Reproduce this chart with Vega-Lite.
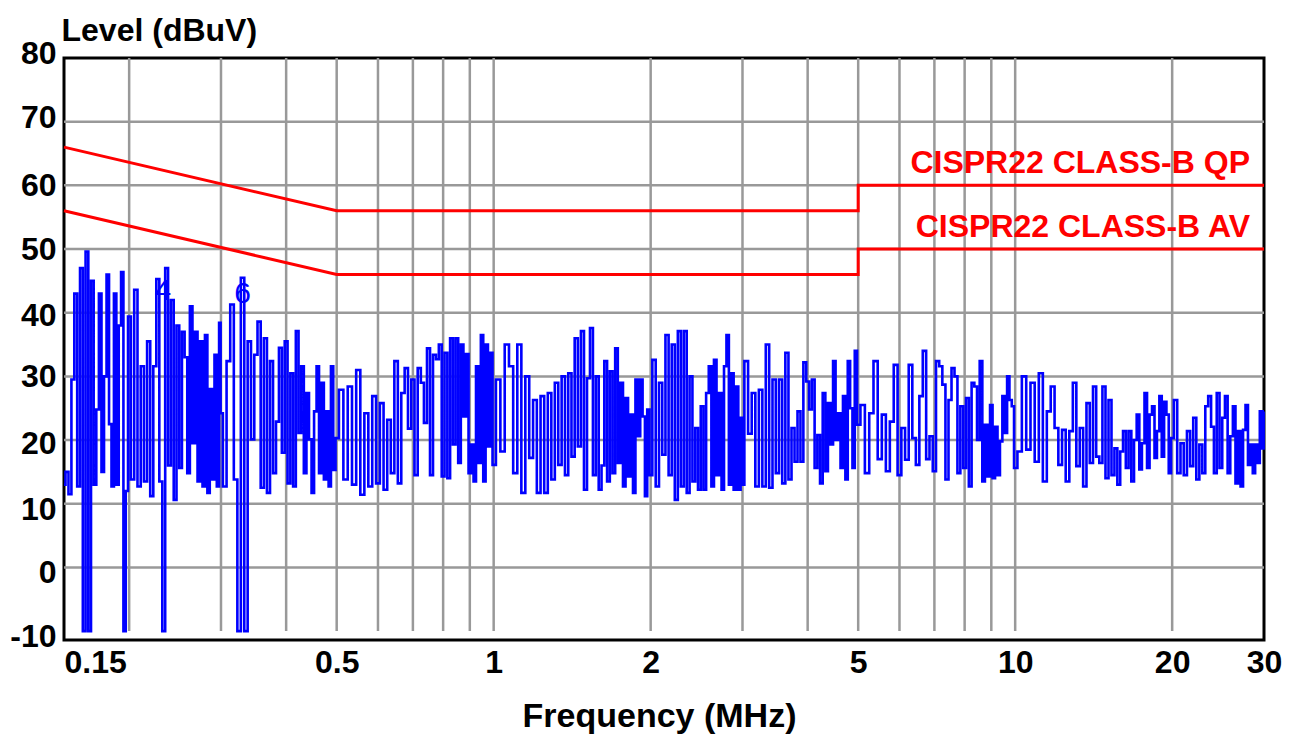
{
  "$schema": "https://vega.github.io/schema/vega-lite/v6.json",
  "width": 1200,
  "height": 582,
  "autosize": {"type": "none"},
  "padding": {"left": 64, "top": 58, "right": 41, "bottom": 102},
  "background": "white",
  "datasets": {
    "trace": [
      {"f":0.150,"v":13},{"f":0.152,"v":15},{"f":0.154,"v":11.5},{"f":0.156,"v":29.5},{"f":0.158,"v":43},{"f":0.160,"v":12.7},{"f":0.162,"v":47},{"f":0.164,"v":-10},{"f":0.166,"v":49.6},{"f":0.168,"v":-10},
      {"f":0.170,"v":45},{"f":0.172,"v":13},{"f":0.174,"v":24.8},{"f":0.176,"v":43},{"f":0.178,"v":15},{"f":0.180,"v":30},{"f":0.182,"v":46},{"f":0.184,"v":22.5},{"f":0.186,"v":12.7},{"f":0.188,"v":43},
      {"f":0.190,"v":13},{"f":0.192,"v":38},{"f":0.194,"v":46.4},{"f":0.196,"v":-10},{"f":0.198,"v":12},{"f":0.200,"v":39.4},
      {"f":0.203,"v":13.8},{"f":0.206,"v":43.6},{"f":0.209,"v":12.7},{"f":0.212,"v":31.6},{"f":0.215,"v":13.5},{"f":0.218,"v":35.5},{"f":0.221,"v":11.2},{"f":0.224,"v":31.6},{"f":0.227,"v":45.3},{"f":0.230,"v":13.5},
      {"f":0.233,"v":-10},{"f":0.236,"v":47},{"f":0.239,"v":16},{"f":0.242,"v":42},{"f":0.245,"v":10.6},{"f":0.248,"v":38},{"f":0.251,"v":15.6},{"f":0.254,"v":37},{"f":0.257,"v":33},{"f":0.260,"v":14.8},
      {"f":0.263,"v":41},{"f":0.266,"v":19.5},{"f":0.269,"v":37},{"f":0.272,"v":13.5},{"f":0.275,"v":35.5},{"f":0.278,"v":12.7},{"f":0.281,"v":36.5},{"f":0.284,"v":11.7},{"f":0.287,"v":28},{"f":0.290,"v":13.8},
      {"f":0.293,"v":33.4},{"f":0.296,"v":12.7},{"f":0.299,"v":38.4},
      {"f":0.300,"v":24.2},{"f":0.305,"v":12.7},{"f":0.310,"v":32.4},{"f":0.315,"v":41.3},{"f":0.320,"v":13.8},{"f":0.325,"v":-10},{"f":0.330,"v":45.5},{"f":0.335,"v":-10},{"f":0.340,"v":35.5},{"f":0.345,"v":20.1},
      {"f":0.350,"v":33.4},{"f":0.355,"v":38.6},{"f":0.360,"v":12.5},{"f":0.365,"v":36},{"f":0.370,"v":11.7},{"f":0.375,"v":32.4},{"f":0.380,"v":14.8},{"f":0.385,"v":22.9},{"f":0.390,"v":34.5},{"f":0.395,"v":18},
      {"f":0.400,"v":35.5},{"f":0.405,"v":13.2},{"f":0.410,"v":30.5},{"f":0.415,"v":12.7},{"f":0.420,"v":37.1},{"f":0.425,"v":21.1},{"f":0.430,"v":31.6},{"f":0.435,"v":14.8},{"f":0.440,"v":27.4},{"f":0.445,"v":20.1},
      {"f":0.450,"v":11.7},{"f":0.455,"v":24.5},{"f":0.460,"v":31.6},{"f":0.465,"v":14.8},{"f":0.470,"v":29},{"f":0.475,"v":13.8},{"f":0.480,"v":24.5},{"f":0.485,"v":12.7},{"f":0.490,"v":31.6},{"f":0.495,"v":15.3},
      {"f":0.500,"v":20.3},
      {"f":0.51,"v":27.9},{"f":0.52,"v":13.8},{"f":0.53,"v":28.4},{"f":0.54,"v":13},{"f":0.55,"v":31},{"f":0.56,"v":11.4},{"f":0.57,"v":24.2},{"f":0.58,"v":12.7},{"f":0.59,"v":26.9},{"f":0.60,"v":13.2},
      {"f":0.61,"v":25.8},{"f":0.62,"v":12.2},{"f":0.63,"v":23.2},{"f":0.64,"v":14.8},{"f":0.65,"v":32.4},{"f":0.66,"v":13.2},{"f":0.67,"v":27.4},{"f":0.68,"v":31.3},{"f":0.69,"v":21.8},{"f":0.70,"v":29.5},
      {"f":0.71,"v":14.5},{"f":0.72,"v":31.3},{"f":0.73,"v":29},{"f":0.74,"v":22.7},{"f":0.75,"v":34.4},{"f":0.76,"v":14.5},{"f":0.77,"v":33.4},{"f":0.78,"v":32.7},{"f":0.79,"v":35},{"f":0.80,"v":14.3},
      {"f":0.81,"v":33.7},{"f":0.82,"v":14},{"f":0.83,"v":36},{"f":0.84,"v":19.3},{"f":0.85,"v":36},{"f":0.86,"v":16.4},{"f":0.87,"v":35},{"f":0.88,"v":23.7},{"f":0.89,"v":33.5},{"f":0.90,"v":14.8},
      {"f":0.91,"v":19.3},{"f":0.92,"v":13.5},{"f":0.93,"v":31.6},{"f":0.94,"v":16.4},{"f":0.95,"v":36.5},{"f":0.96,"v":13.5},{"f":0.97,"v":35},{"f":0.98,"v":19},{"f":0.99,"v":33.7},{"f":1.00,"v":16.1},
      {"f":1.02,"v":29.5},{"f":1.04,"v":18.2},{"f":1.06,"v":35},{"f":1.08,"v":31.6},{"f":1.10,"v":14.8},{"f":1.12,"v":35},{"f":1.14,"v":11.7},{"f":1.16,"v":30},{"f":1.18,"v":17.2},{"f":1.20,"v":26.3},
      {"f":1.22,"v":11.7},{"f":1.24,"v":26.9},{"f":1.26,"v":11.7},{"f":1.28,"v":27.4},{"f":1.30,"v":13.8},{"f":1.32,"v":29},{"f":1.34,"v":16.1},{"f":1.36,"v":30},{"f":1.38,"v":14.5},{"f":1.40,"v":30.5},
      {"f":1.42,"v":17.4},{"f":1.44,"v":36},{"f":1.46,"v":19},{"f":1.48,"v":37.1},{"f":1.50,"v":12.2},{"f":1.52,"v":29.7},{"f":1.54,"v":37.6},{"f":1.56,"v":14.5},{"f":1.58,"v":30},{"f":1.60,"v":12.2},
      {"f":1.62,"v":16},{"f":1.64,"v":32.4},{"f":1.66,"v":13.5},{"f":1.68,"v":30.8},{"f":1.70,"v":14.8},{"f":1.72,"v":34.4},{"f":1.74,"v":16.4},{"f":1.76,"v":29},{"f":1.78,"v":12.7},{"f":1.80,"v":26.6},
      {"f":1.82,"v":14.3},{"f":1.84,"v":24},{"f":1.86,"v":11.7},{"f":1.88,"v":29.5},{"f":1.90,"v":20.6},{"f":1.92,"v":29.5},{"f":1.94,"v":23.7},{"f":1.96,"v":11.2},{"f":1.98,"v":24.8},{"f":2.00,"v":14.5},
      {"f":2.03,"v":32.6},{"f":2.06,"v":12.7},{"f":2.09,"v":29},{"f":2.12,"v":17.7},{"f":2.15,"v":36.5},{"f":2.18,"v":14.5},{"f":2.21,"v":35},{"f":2.24,"v":10.6},{"f":2.27,"v":37.1},{"f":2.30,"v":12.7},
      {"f":2.33,"v":37.1},{"f":2.36,"v":11.7},{"f":2.39,"v":30},{"f":2.42,"v":13.5},{"f":2.45,"v":21.9},{"f":2.48,"v":12.2},{"f":2.51,"v":25.3},{"f":2.54,"v":12.2},{"f":2.57,"v":27.4},{"f":2.60,"v":31.6},
      {"f":2.63,"v":12.7},{"f":2.66,"v":32.6},{"f":2.69,"v":14.5},{"f":2.72,"v":27.4},{"f":2.75,"v":12.2},{"f":2.78,"v":31.6},{"f":2.81,"v":36.5},{"f":2.84,"v":13},{"f":2.87,"v":30.5},{"f":2.90,"v":12.2},
      {"f":2.93,"v":28.4},{"f":2.96,"v":12.2},{"f":2.99,"v":23.5},{"f":3.00,"v":13},
      {"f":3.05,"v":32.4},{"f":3.10,"v":21},{"f":3.15,"v":27.4},{"f":3.20,"v":12.7},{"f":3.25,"v":27.9},{"f":3.30,"v":12.7},{"f":3.35,"v":35},{"f":3.40,"v":12.5},{"f":3.45,"v":29.5},{"f":3.50,"v":14.8},
      {"f":3.55,"v":29.5},{"f":3.60,"v":13.2},{"f":3.65,"v":33.7},{"f":3.70,"v":13.8},{"f":3.75,"v":21.9},{"f":3.80,"v":16.6},{"f":3.85,"v":24.5},{"f":3.90,"v":16.6},{"f":3.95,"v":32.2},{"f":4.00,"v":29.2},
      {"f":4.05,"v":24.8},{"f":4.10,"v":29.5},{"f":4.15,"v":15.6},{"f":4.20,"v":20.8},{"f":4.25,"v":13.2},{"f":4.30,"v":27.4},{"f":4.35,"v":15.1},{"f":4.40,"v":25.8},{"f":4.45,"v":19.3},{"f":4.50,"v":32.4},
      {"f":4.55,"v":20},{"f":4.60,"v":24.2},{"f":4.65,"v":15.6},{"f":4.70,"v":26.9},{"f":4.75,"v":13.8},{"f":4.80,"v":32.4},{"f":4.85,"v":25},{"f":4.90,"v":15.6},{"f":4.95,"v":34},{"f":5.00,"v":22.4},
      {"f":5.1,"v":25.5},{"f":5.2,"v":14.8},{"f":5.3,"v":24.2},{"f":5.4,"v":32.4},{"f":5.5,"v":17},{"f":5.6,"v":24},{"f":5.7,"v":15.1},{"f":5.8,"v":22.9},{"f":5.9,"v":31.8},{"f":6.0,"v":14.5},
      {"f":6.1,"v":21.9},{"f":6.2,"v":16.9},{"f":6.3,"v":31.8},{"f":6.4,"v":20.3},{"f":6.5,"v":16.1},{"f":6.6,"v":26.9},{"f":6.7,"v":34},{"f":6.8,"v":17},{"f":6.9,"v":20.6},{"f":7.0,"v":15.1},
      {"f":7.1,"v":32.4},{"f":7.2,"v":31.6},{"f":7.3,"v":28.7},{"f":7.4,"v":13.8},{"f":7.5,"v":26.3},{"f":7.6,"v":31.3},{"f":7.7,"v":30},{"f":7.8,"v":14.8},{"f":7.9,"v":25.3},{"f":8.0,"v":15.6},
      {"f":8.1,"v":26.6},{"f":8.2,"v":12.7},{"f":8.3,"v":29},{"f":8.4,"v":28.4},{"f":8.5,"v":20},{"f":8.6,"v":32.4},{"f":8.7,"v":13.5},{"f":8.8,"v":22.4},{"f":8.9,"v":14.3},{"f":9.0,"v":25.5},
      {"f":9.1,"v":14},{"f":9.2,"v":22.1},{"f":9.3,"v":14.5},{"f":9.4,"v":19.8},{"f":9.5,"v":26.9},{"f":9.6,"v":21.1},{"f":9.7,"v":30},{"f":9.8,"v":26.3},{"f":9.9,"v":25.3},{"f":10.0,"v":15.6},
      {"f":10.2,"v":18.2},{"f":10.4,"v":30},{"f":10.6,"v":18.5},{"f":10.8,"v":29},{"f":11.0,"v":16.6},{"f":11.2,"v":30.5},{"f":11.4,"v":13.5},{"f":11.6,"v":24.5},{"f":11.8,"v":28.4},{"f":12.0,"v":21.9},
      {"f":12.2,"v":16.1},{"f":12.4,"v":21.6},{"f":12.6,"v":13.5},{"f":12.8,"v":21.4},{"f":13.0,"v":29},{"f":13.2,"v":15.9},{"f":13.4,"v":21.9},{"f":13.6,"v":12.7},{"f":13.8,"v":25.8},{"f":14.0,"v":16.4},
      {"f":14.2,"v":28.4},{"f":14.4,"v":17.4},{"f":14.6,"v":16.4},{"f":14.8,"v":28.4},{"f":15.0,"v":14},{"f":15.2,"v":26.3},{"f":15.4,"v":14.5},{"f":15.6,"v":18.7},{"f":15.8,"v":13},{"f":16.0,"v":18.2},
      {"f":16.2,"v":21.4},{"f":16.4,"v":15.6},{"f":16.6,"v":21.4},{"f":16.8,"v":13.5},{"f":17.0,"v":20},{"f":17.2,"v":24},{"f":17.4,"v":15.4},{"f":17.6,"v":19.5},{"f":17.8,"v":27.4},{"f":18.0,"v":15.6},
      {"f":18.2,"v":24},{"f":18.4,"v":25.3},{"f":18.6,"v":17.2},{"f":18.8,"v":21.4},{"f":19.0,"v":26.9},{"f":19.2,"v":17.4},{"f":19.4,"v":26},{"f":19.6,"v":24},{"f":19.8,"v":14.8},{"f":20.0,"v":20.3},
      {"f":20.3,"v":26.3},{"f":20.6,"v":14.8},{"f":20.9,"v":19.5},{"f":21.2,"v":14.5},{"f":21.5,"v":21.4},{"f":21.8,"v":15.9},{"f":22.1,"v":23.5},{"f":22.4,"v":13.8},{"f":22.7,"v":19.3},{"f":23.0,"v":14.8},
      {"f":23.3,"v":25.3},{"f":23.6,"v":26.9},{"f":23.9,"v":22.1},{"f":24.2,"v":14.8},{"f":24.5,"v":27.4},{"f":24.8,"v":15.6},{"f":25.1,"v":23.5},{"f":25.4,"v":26.9},{"f":25.7,"v":14.8},{"f":26.0,"v":20.6},
      {"f":26.3,"v":25.3},{"f":26.6,"v":13.2},{"f":26.9,"v":21.4},{"f":27.2,"v":12.7},{"f":27.5,"v":21.6},{"f":27.8,"v":25.5},{"f":28.1,"v":16.1},{"f":28.4,"v":19.3},{"f":28.7,"v":14.8},{"f":29.0,"v":19.3},
      {"f":29.3,"v":16.4},{"f":29.6,"v":24.5},{"f":29.9,"v":18.7},{"f":30.0,"v":24.5}
    ],
    "limits": [
      {"lim":"QP","f":0.15,"v":66},{"lim":"QP","f":0.5,"v":56},{"lim":"QP","f":5,"v":56},{"lim":"QP","f":5,"v":60},{"lim":"QP","f":30,"v":60},
      {"lim":"AV","f":0.15,"v":56},{"lim":"AV","f":0.5,"v":46},{"lim":"AV","f":5,"v":46},{"lim":"AV","f":5,"v":50},{"lim":"AV","f":30,"v":50}
    ],
    "limitLabels": [
      {"f":30,"v":60,"t":"CISPR22 CLASS-B QP"},
      {"f":30,"v":50,"t":"CISPR22 CLASS-B AV"}
    ],
    "markers": [
      {"f":0.232,"v":42,"t":"4"},
      {"f":0.33,"v":41.6,"t":"6"}
    ],
    "gridFreq": [
      {"g":0.2},{"g":0.3},{"g":0.4},{"g":0.5},{"g":0.6},{"g":0.7},{"g":0.8},{"g":0.9},{"g":1},
      {"g":2},{"g":3},{"g":4},{"g":5},{"g":6},{"g":7},{"g":8},{"g":9},{"g":10},{"g":20}
    ],
    "gridLevel": [
      {"g":0},{"g":10},{"g":20},{"g":30},{"g":40},{"g":50},{"g":60},{"g":70}
    ]
  },
  "layer": [
    {
      "data": {"name": "gridFreq"},
      "mark": {"type": "rule", "color": "#999999", "strokeWidth": 2.5},
      "encoding": {
        "x": {"field": "g", "type": "quantitative", "scale": {"type": "log"}},
        "y": {"datum": -10, "type": "quantitative"},
        "y2": {"datum": 80}
      }
    },
    {
      "data": {"name": "gridLevel"},
      "mark": {"type": "rule", "color": "#999999", "strokeWidth": 2.5},
      "encoding": {
        "y": {"field": "g", "type": "quantitative"},
        "x": {"datum": 0.15, "type": "quantitative", "scale": {"type": "log"}},
        "x2": {"datum": 30}
      }
    },
    {
      "data": {"name": "trace"},
      "mark": {"type": "line", "color": "#0000ff", "strokeWidth": 2.6, "interpolate": "step"},
      "encoding": {
        "x": {
          "field": "f", "type": "quantitative",
          "scale": {"type": "log", "domain": [0.15, 30], "nice": false},
          "axis": {
            "values": [0.15, 0.5, 1, 2, 5, 10, 20, 30],
            "format": "~g",
            "grid": false,
            "orient": "bottom",
            "labelPadding": 7,
            "labelOverlap": false,
            "labelFlush": false,
            "labelBound": false,
            "labelAlign": {"condition": {"test": "datum.value < 0.2", "value": "left"}, "value": "center"},
            "title": "Frequency (MHz)",
            "titleFontSize": 34,
            "titleX": 595,
            "titleY": 86,
            "titleBaseline": "alphabetic"
          }
        },
        "y": {
          "field": "v", "type": "quantitative",
          "scale": {"domain": [-11.4, 80], "nice": false, "zero": false},
          "axis": {
            "values": [-10, 0, 10, 20, 30, 40, 50, 60, 70, 80],
            "labelExpr": "datum.value < 0 ? '-' + abs(datum.value) : datum.label",
            "grid": false,
            "orient": "left",
            "labelPadding": 8,
            "labelOffset": {"condition": [
              {"test": "datum.value >= 70", "value": -4.5},
              {"test": "datum.value <= 10", "value": 5.5},
              {"test": "datum.value == 40 || datum.value == 20", "value": 3}
            ], "value": 0},
            "title": "Level (dBuV)",
            "titleFontSize": 32,
            "titleAngle": 0,
            "titleAlign": "left",
            "titleBaseline": "alphabetic",
            "titleX": -3,
            "titleY": -18
          }
        }
      }
    },
    {
      "data": {"name": "limits"},
      "mark": {"type": "line", "color": "#ff0000", "strokeWidth": 3},
      "encoding": {
        "x": {"field": "f", "type": "quantitative", "scale": {"type": "log"}},
        "y": {"field": "v", "type": "quantitative"},
        "detail": {"field": "lim"},
        "order": {"value": null}
      }
    },
    {
      "data": {"name": "limitLabels"},
      "mark": {"type": "text", "color": "#ff0000", "align": "right", "baseline": "alphabetic", "dx": -14, "dy": -12, "font": "Liberation Sans", "fontSize": 32, "fontWeight": "bold"},
      "encoding": {
        "x": {"field": "f", "type": "quantitative", "scale": {"type": "log"}},
        "y": {"field": "v", "type": "quantitative"},
        "text": {"field": "t"}
      }
    },
    {
      "data": {"name": "markers"},
      "mark": {"type": "text", "color": "#0000ff", "align": "center", "baseline": "alphabetic", "font": "Liberation Sans", "fontSize": 30},
      "encoding": {
        "x": {"field": "f", "type": "quantitative", "scale": {"type": "log"}},
        "y": {"field": "v", "type": "quantitative"},
        "text": {"field": "t"}
      }
    }
  ],
  "config": {
    "view": {"stroke": "black", "strokeWidth": 3},
    "axis": {
      "domain": false,
      "ticks": false,
      "grid": false,
      "labelFont": "Liberation Sans",
      "labelFontSize": 32,
      "labelFontWeight": "bold",
      "labelColor": "black",
      "titleFont": "Liberation Sans",
      "titleFontWeight": "bold",
      "titleColor": "black"
    }
  }
}
